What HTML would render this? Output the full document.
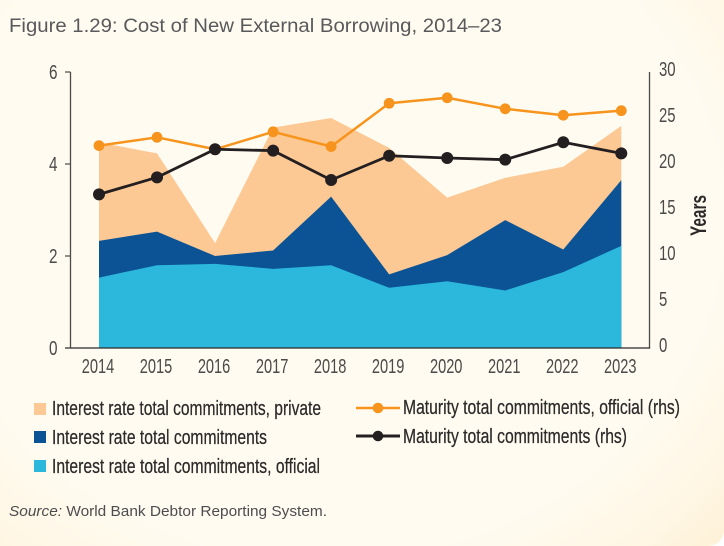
<!DOCTYPE html>
<html lang="en">
<head>
<meta charset="utf-8">
<title>Figure 1.29: Cost of New External Borrowing, 2014–23</title>
<style>
html,body{margin:0;padding:0;width:724px;height:546px;overflow:hidden;background:#fff;}
#panel{position:absolute;left:0;top:0;width:724px;height:546px;background:radial-gradient(ellipse 560px 480px at 45% 40%,#fffbf0 70%,#fff7e6 86%,#fdf0d4 100%);border-bottom-right-radius:16px;}
svg{position:absolute;left:0;top:0;}
text{font-family:"Liberation Sans",sans-serif;}
.leg{stroke:#2b2a29;stroke-width:.25px;}
</style>
</head>
<body>
<div id="panel">
<svg id="chart" width="724" height="546" viewBox="0 0 724 546">
  <text x="9" y="32" font-size="19.5" fill="#58595b" textLength="493" lengthAdjust="spacingAndGlyphs">Figure 1.29: Cost of New External Borrowing, 2014–23</text>
  <g id="areas"></g>
  <g id="axes"></g>
  <g id="lines"></g>
  <text x="706" y="236" font-size="22" font-weight="bold" fill="#2b2a29" textLength="41" lengthAdjust="spacingAndGlyphs" transform="rotate(-90 706 236)">Years</text>

  <g>
    <rect x="34" y="403" width="12" height="12" fill="#fcc994"></rect>
    <text class="leg" x="52" y="415" font-size="20" fill="#2b2a29" textLength="269" lengthAdjust="spacingAndGlyphs">Interest rate total commitments, private</text>
    <rect x="34" y="431" width="12" height="12" fill="#0b5394"></rect>
    <text class="leg" x="52" y="444" font-size="20" fill="#2b2a29" textLength="215" lengthAdjust="spacingAndGlyphs">Interest rate total commitments</text>
    <rect x="34" y="460" width="12" height="12" fill="#2cb8dd"></rect>
    <text class="leg" x="52" y="473" font-size="20" fill="#2b2a29" textLength="268" lengthAdjust="spacingAndGlyphs">Interest rate total commitments, official</text>
    <line x1="356" y1="408" x2="400" y2="408" stroke="#f7941d" stroke-width="2.5"></line>
    <circle cx="378" cy="408" r="5.3" fill="#f7941d"></circle>
    <text class="leg" x="403" y="414" font-size="20" fill="#2b2a29" textLength="277" lengthAdjust="spacingAndGlyphs">Maturity total commitments, official (rhs)</text>
    <line x1="356" y1="436" x2="400" y2="436" stroke="#231f20" stroke-width="3"></line>
    <circle cx="378" cy="436" r="5.3" fill="#231f20"></circle>
    <text class="leg" x="403" y="443" font-size="20" fill="#2b2a29" textLength="224" lengthAdjust="spacingAndGlyphs">Maturity total commitments (rhs)</text>
  </g>

  <text x="9" y="516" font-size="15" fill="#4d4d4f" textLength="318" lengthAdjust="spacingAndGlyphs"><tspan font-style="italic">Source:</tspan> World Bank Debtor Reporting System.</text>
</svg>
</div>
<script>
const categories = ['2014','2015','2016','2017','2018','2019','2020','2021','2022','2023'];
const interestPrivate = [4.47,4.23,2.28,4.79,5.00,4.35,3.27,3.70,3.94,4.83];
const interestTotal = [2.33,2.53,2.00,2.12,3.29,1.60,2.02,2.78,2.14,3.65];
const interestOfficial = [1.53,1.80,1.83,1.72,1.80,1.31,1.45,1.25,1.65,2.22];
const maturityOfficial = [22.0,22.9,21.6,23.5,21.9,26.6,27.2,26.0,25.3,25.8];
const maturityTotal = [16.7,18.55,21.6,21.45,18.26,20.9,20.65,20.47,22.36,21.16];
const leftTicks = [0,2,4,6];
const rightTicks = [0,5,10,15,20,25,30];

const NS = 'http://www.w3.org/2000/svg';
const plotLeft = 70.5, plotRight = 649.5, plotTop = 72, plotBottom = 348;
const firstX = 99, lastX = 621.3;
const leftMax = 6, rightMax = 30;

function xScale(i){ return firstX + (lastX - firstX) * i / (categories.length - 1); }
function yLeft(v){ return plotBottom - (plotBottom - plotTop) * v / leftMax; }
function yRight(v){ return plotBottom - (plotBottom - plotTop) * v / rightMax; }
function make(tag, attrs, parent){
  const el = document.createElementNS(NS, tag);
  for (const k in attrs) el.setAttribute(k, attrs[k]);
  parent.appendChild(el);
  return el;
}

const areasG = document.getElementById('areas');
const axesG = document.getElementById('axes');
const linesG = document.getElementById('lines');

function drawArea(values, fill, name){
  const top = values.map((v, i) => xScale(i).toFixed(2) + ',' + yLeft(v).toFixed(2));
  const pts = [xScale(0).toFixed(2) + ',' + yLeft(0)].concat(top, [xScale(values.length - 1).toFixed(2) + ',' + yLeft(0)]);
  const el = make('polygon', {points: pts.join(' '), fill: fill}, areasG);
  
  
}
drawArea(interestPrivate, '#fcc994', 'area-interest-private');
drawArea(interestTotal, '#0b5394', 'area-interest-total');
drawArea(interestOfficial, '#2cb8dd', 'area-interest-official');

function drawLine(values, color, width, radius, name){
  const pts = values.map((v, i) => xScale(i).toFixed(2) + ',' + yRight(v).toFixed(2));
  const line = make('polyline', {points: pts.join(' '), fill: 'none', stroke: color, 'stroke-width': width, 'stroke-linejoin': 'round'}, linesG);
  
  
  values.forEach((v, i) => {
    const dot = make('circle', {cx: xScale(i).toFixed(2), cy: yRight(v).toFixed(2), r: radius, fill: color}, linesG);
    
    
  });
}
drawLine(maturityOfficial, '#f7941d', 2.5, 5.4, 'maturity-official');
drawLine(maturityTotal, '#231f20', 2.8, 6, 'maturity-total');

const leftAxis = make('line', {x1: plotLeft, y1: plotTop, x2: plotLeft, y2: plotBottom + 0.5, stroke: '#4a4a48', 'stroke-width': 1.3}, axesG);


const rightAxis = make('line', {x1: plotRight, y1: plotTop, x2: plotRight, y2: plotBottom + 0.5, stroke: '#4a4a48', 'stroke-width': 1.3}, axesG);


const baseAxis = make('line', {x1: 65, y1: plotBottom, x2: plotRight + 0.6, y2: plotBottom, stroke: '#2b2a29', 'stroke-width': 1.3}, axesG);



leftTicks.forEach(v => {
  const tick = make('line', {x1: 65, y1: yLeft(v), x2: plotLeft, y2: yLeft(v), stroke: '#4a4a48', 'stroke-width': 1.2}, axesG);
  
  
  const label = make('text', {x: 49, y: yLeft(v) + 7, 'font-size': 20, fill: '#4a4a48', textLength: 8.5, lengthAdjust: 'spacingAndGlyphs'}, axesG);
  label.textContent = String(v);
  
  
});
rightTicks.forEach(v => {
  const s = String(v);
  const label = make('text', {x: 659, y: yRight(v) + 4, 'font-size': 20, fill: '#4a4a48', textLength: s.length * 8.3, lengthAdjust: 'spacingAndGlyphs'}, axesG);
  label.textContent = s;
  
  
});
categories.forEach((c, i) => {
  const label = make('text', {x: xScale(i) - 1, y: 373, 'font-size': 20, fill: '#4a4a48', 'text-anchor': 'middle', textLength: 32.5, lengthAdjust: 'spacingAndGlyphs'}, axesG);
  label.textContent = c;
  
  
});
</script>
</body>
</html>
